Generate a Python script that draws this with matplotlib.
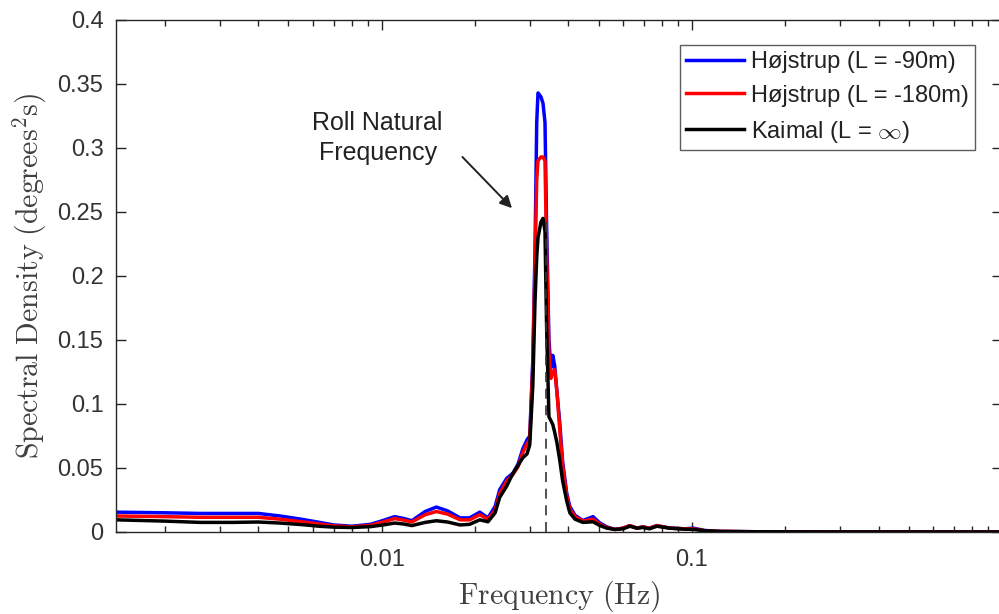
import matplotlib
matplotlib.use("Agg")
import matplotlib.pyplot as plt
from matplotlib.ticker import FixedLocator, FuncFormatter, LogLocator, NullFormatter

plt.rcParams["font.family"] = ["Liberation Sans", "DejaVu Sans"]
plt.rcParams["mathtext.fontset"] = "cm"

# Roll response spectra of the floating platform
freq = [0.0014, 0.0020, 0.0026, 0.0033, 0.0040, 0.0047, 0.0055, 0.0063, 0.0070,
        0.0080, 0.0092, 0.0101, 0.0110, 0.0118, 0.0125, 0.0138, 0.0150, 0.0163,
        0.0179, 0.0192, 0.0207, 0.0220, 0.0232, 0.0240, 0.0253, 0.0265, 0.0275,
        0.0285, 0.0294, 0.0300, 0.0307, 0.0312, 0.0316, 0.0319, 0.0326, 0.0331,
        0.0336, 0.0340, 0.0346, 0.0351, 0.0356, 0.0361, 0.0367, 0.0375, 0.0383,
        0.0395, 0.0404, 0.0420, 0.0445, 0.0480, 0.0505, 0.0532, 0.0565, 0.0600,
        0.0631, 0.0665, 0.0695, 0.0730, 0.0771, 0.0850, 0.0950, 0.1010, 0.1100,
        0.1230, 0.1600, 0.2500, 0.5000, 1.0000]

psd_hojstrup_90 = [0.0155, 0.0150, 0.0145, 0.0145, 0.0145, 0.0125, 0.0100, 0.0075, 0.0055,
                   0.0045, 0.0060, 0.0090, 0.0120, 0.0105, 0.0088, 0.0160, 0.0195, 0.0165,
                   0.0110, 0.0110, 0.0155, 0.0110, 0.0200, 0.0330, 0.0420, 0.0460, 0.0530,
                   0.0650, 0.0720, 0.0750, 0.1350, 0.2200, 0.3200, 0.3430, 0.3400, 0.3350,
                   0.3200, 0.2400, 0.1500, 0.1280, 0.1380, 0.1300, 0.1100, 0.0850, 0.0550,
                   0.0300, 0.0200, 0.0130, 0.0090, 0.0120, 0.0070, 0.0040, 0.0020, 0.0030,
                   0.0050, 0.0030, 0.0040, 0.0030, 0.0050, 0.0030, 0.0025, 0.0030, 0.0012,
                   0.0005, 0.0002, 0.0001, 0.00005, 0.00002]

psd_hojstrup_180 = [0.0125, 0.0120, 0.0115, 0.0115, 0.0115, 0.0100, 0.0080, 0.0062, 0.0048,
                    0.0040, 0.0052, 0.0078, 0.0105, 0.0092, 0.0078, 0.0135, 0.0160, 0.0140,
                    0.0095, 0.0095, 0.0135, 0.0100, 0.0170, 0.0300, 0.0400, 0.0450, 0.0510,
                    0.0620, 0.0690, 0.0720, 0.1300, 0.2100, 0.2750, 0.2900, 0.2930, 0.2930,
                    0.2900, 0.2200, 0.1400, 0.1200, 0.1250, 0.1270, 0.1100, 0.0800, 0.0520,
                    0.0280, 0.0180, 0.0120, 0.0085, 0.0100, 0.0060, 0.0035, 0.0020, 0.0030,
                    0.0050, 0.0030, 0.0040, 0.0030, 0.0050, 0.0030, 0.0025, 0.0025, 0.0010,
                    0.0005, 0.0002, 0.0001, 0.00005, 0.00002]

psd_kaimal = [0.0095, 0.0085, 0.0075, 0.0075, 0.0078, 0.0070, 0.0058, 0.0045, 0.0038,
              0.0035, 0.0042, 0.0055, 0.0070, 0.0062, 0.0050, 0.0075, 0.0088, 0.0078,
              0.0055, 0.0060, 0.0095, 0.0080, 0.0150, 0.0270, 0.0360, 0.0460, 0.0520,
              0.0580, 0.0610, 0.0680, 0.1150, 0.1800, 0.2150, 0.2300, 0.2420, 0.2450,
              0.2350, 0.1600, 0.0900, 0.0870, 0.0840, 0.0780, 0.0700, 0.0560, 0.0400,
              0.0240, 0.0150, 0.0100, 0.0075, 0.0080, 0.0050, 0.0030, 0.0020, 0.0025,
              0.0045, 0.0030, 0.0035, 0.0025, 0.0045, 0.0030, 0.0022, 0.0020, 0.0010,
              0.0004, 0.0002, 0.0001, 0.00005, 0.00002]

roll_natural_freq = 0.0338
roll_marker_top = 0.245

labels = ["Højstrup (L = -90m)", "Højstrup (L = -180m)", r"Kaimal (L = $\infty$)"]
colors = ["#0000ff", "#ff0000", "#000000"]

axis_gray = "#262626"

fig = plt.figure(figsize=(9.99, 6.14), dpi=100)
ax = fig.add_axes([116 / 999, 1 - 532 / 614, (1002 - 116) / 999, (532 - 20) / 614])

for series, lab, col in zip([psd_hojstrup_90, psd_hojstrup_180, psd_kaimal], labels, colors):
    ax.plot(freq, series, color=col, lw=2.5, label=lab, solid_joinstyle="round")

ax.plot([roll_natural_freq, roll_natural_freq], [0, roll_marker_top],
        ls=(0, (6, 4)), color="#333333", lw=1.2, zorder=5)

ax.set_xscale("log")
ax.set_xlim(0.00139, 1.0)
ax.set_ylim(0, 0.4)

ax.xaxis.set_major_locator(FixedLocator([0.01, 0.1, 1.0]))
ax.xaxis.set_major_formatter(FuncFormatter(lambda v, p: f"{v:g}" if v < 0.5 else ""))
ax.xaxis.set_minor_locator(LogLocator(base=10, subs=range(2, 10), numticks=20))
ax.xaxis.set_minor_formatter(NullFormatter())
ax.set_yticks([0, 0.05, 0.1, 0.15, 0.2, 0.25, 0.3, 0.35, 0.4])
ax.yaxis.set_major_formatter(FuncFormatter(lambda v, p: f"{v:g}"))

ax.tick_params(which="both", direction="in", top=True, right=True,
               colors=axis_gray, labelcolor="#333333", width=1.0)
ax.tick_params(which="major", length=7, labelsize=17)
ax.tick_params(axis="x", which="major", pad=12)
ax.tick_params(axis="y", which="major", pad=9)
ax.tick_params(which="minor", length=4)
for sp in ax.spines.values():
    sp.set_color(axis_gray)
    sp.set_linewidth(1.0)

ax.set_xlabel(r"$\mathrm{Frequency\ (Hz)}$", fontsize=21.5, color="#404040")
ax.set_ylabel(r"$\mathrm{Spectral\ Density\ (degrees^2s)}$", fontsize=21.5, color="#404040")
ax.xaxis.set_label_coords(0.5, (532 - 579) / 512)
ax.yaxis.set_label_coords((49 - 116) / 886, 0.5)

ax.text(0.0097, 0.308, "Roll Natural\nFrequency", ha="center", va="center",
        fontsize=18, color="#222222", linespacing=1.3)
ax.annotate("", xy=(0.0263, 0.253), xytext=(0.0182, 0.293),
            arrowprops=dict(arrowstyle="-|>", color="#222222", lw=1.4,
                            mutation_scale=18, shrinkA=0, shrinkB=0))

leg = ax.legend(loc="upper right", bbox_to_anchor=((975 - 116) / (1002 - 116), 1 - 25 / 512),
                fontsize=17, frameon=True, fancybox=False, handlelength=2.45,
                handletextpad=0.3, borderpad=0.25, labelspacing=0.5, borderaxespad=0)
leg.get_frame().set_edgecolor("#333333")
leg.get_frame().set_linewidth(1.0)
for t in leg.get_texts():
    t.set_color("#222222")

fig.savefig("out.png", dpi=100)
